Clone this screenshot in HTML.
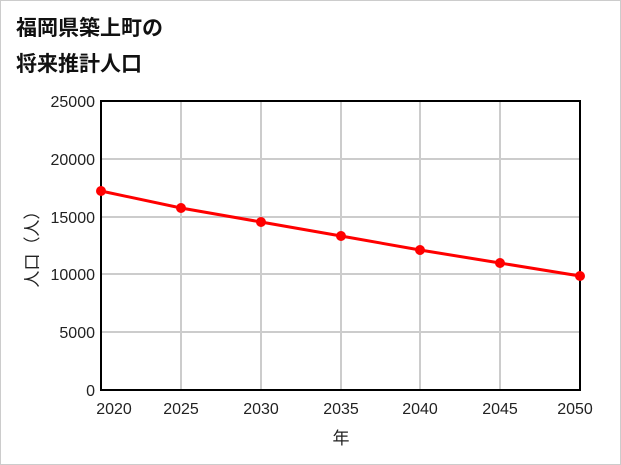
<!DOCTYPE html>
<html><head><meta charset="utf-8"><style>
html,body{margin:0;padding:0;background:#fff}
svg{display:block}
</style></head><body>
<svg width="621" height="465" xmlns="http://www.w3.org/2000/svg" font-family="'Liberation Sans','Noto Sans CJK JP',sans-serif">
<rect x="0.5" y="0.5" width="620" height="464" fill="#fff" stroke="#ccc"/>
<text x="16" y="35" font-size="21" font-weight="bold" fill="#111">福岡県築上町の</text>
<text x="16" y="71" font-size="21" font-weight="bold" fill="#111">将来推計人口</text>
<g stroke="#ccc" stroke-width="2">
<line x1="181" y1="101" x2="181" y2="390"/><line x1="261" y1="101" x2="261" y2="390"/>
<line x1="341" y1="101" x2="341" y2="390"/><line x1="420" y1="101" x2="420" y2="390"/>
<line x1="500" y1="101" x2="500" y2="390"/>
<line x1="101" y1="159" x2="580" y2="159"/><line x1="101" y1="217" x2="580" y2="217"/>
<line x1="101" y1="274" x2="580" y2="274"/><line x1="101" y1="332" x2="580" y2="332"/>
</g>
<rect x="101" y="101" width="479" height="289" fill="none" stroke="#000" stroke-width="2"/>
<g font-size="16" fill="#222" text-anchor="end">
<text x="95" y="107">25000</text><text x="95" y="165">20000</text><text x="95" y="223">15000</text>
<text x="95" y="280">10000</text><text x="95" y="338">5000</text><text x="95" y="396">0</text>
</g>
<g font-size="16" fill="#222" text-anchor="middle">
<text x="114" y="414">2020</text><text x="181" y="414">2025</text><text x="261" y="414">2030</text>
<text x="341" y="414">2035</text><text x="420" y="414">2040</text><text x="500" y="414">2045</text>
<text x="575" y="414">2050</text>
</g>
<text x="341" y="444" font-size="17" text-anchor="middle" fill="#222">年</text>
<text transform="translate(38,245) rotate(-90)" font-size="17" text-anchor="middle" fill="#222">人口（人）</text>
<polyline points="101,191 181,208 261,222 341,236 420,250 500,263 580,276" fill="none" stroke="#f00" stroke-width="3"/>
<g fill="#f00">
<circle cx="101" cy="191" r="5"/><circle cx="181" cy="208" r="5"/><circle cx="261" cy="222" r="5"/>
<circle cx="341" cy="236" r="5"/><circle cx="420" cy="250" r="5"/><circle cx="500" cy="263" r="5"/>
<circle cx="580" cy="276" r="5"/>
</g>
</svg>
</body></html>
